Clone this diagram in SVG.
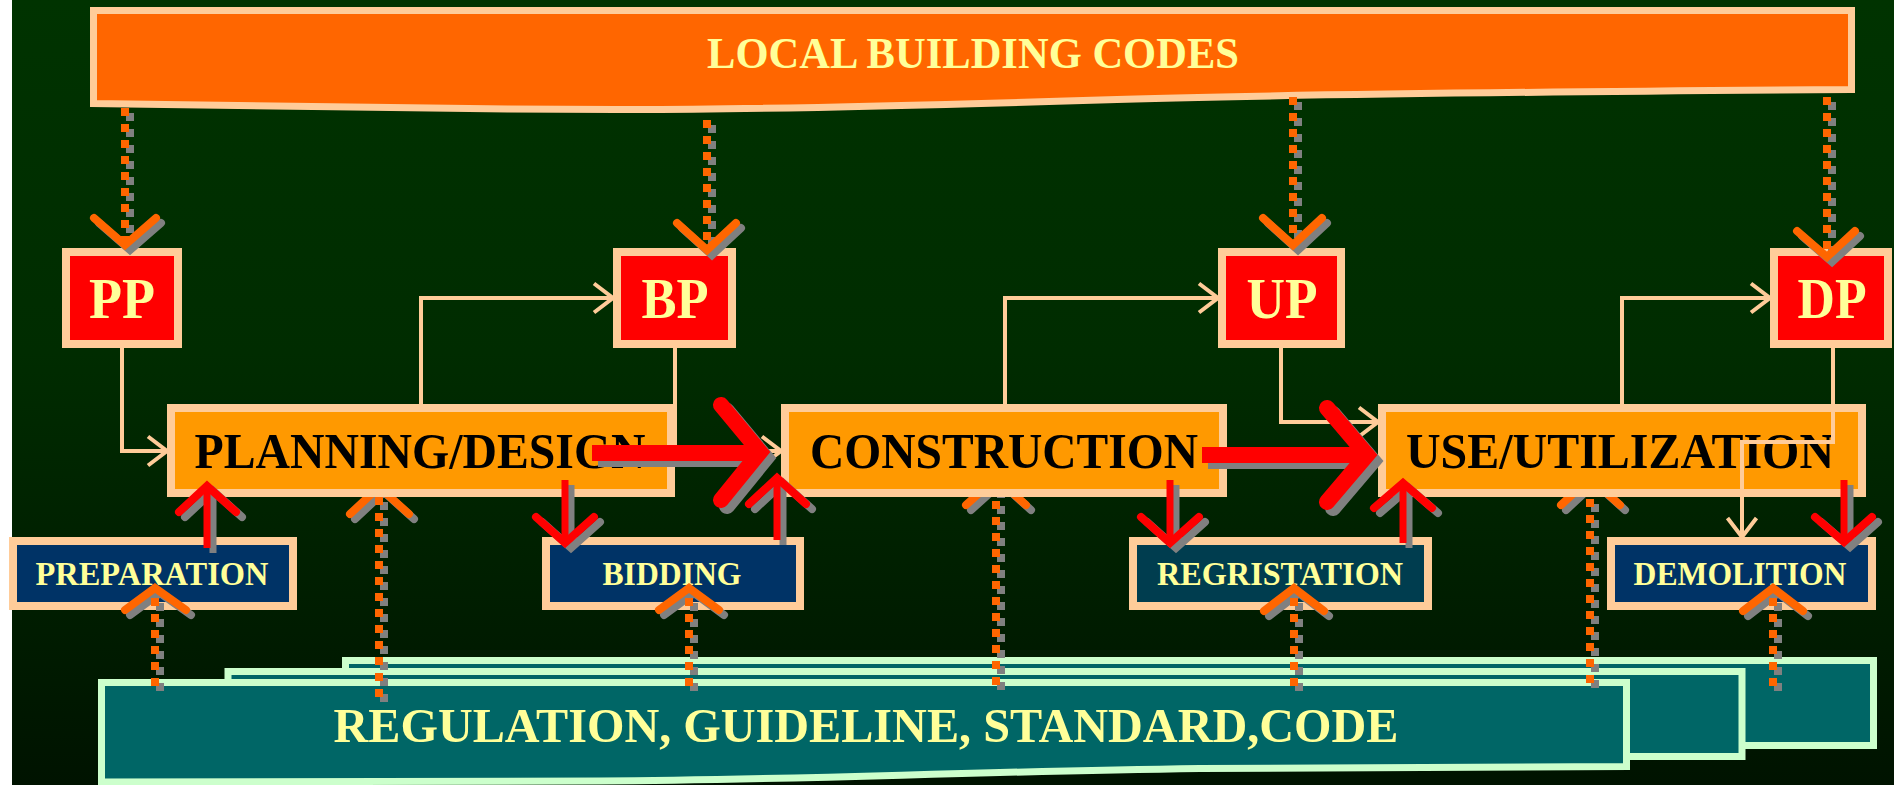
<svg xmlns="http://www.w3.org/2000/svg" width="1894" height="785" viewBox="0 0 1894 785">
<defs>
<linearGradient id="bg" x1="0" y1="0" x2="0" y2="1">
<stop offset="0" stop-color="#003300"/>
<stop offset="0.45" stop-color="#002c00"/>
<stop offset="1" stop-color="#001300"/>
</linearGradient>
<marker id="pa" markerUnits="userSpaceOnUse" viewBox="0 0 24 34" markerWidth="24" markerHeight="34" refX="21" refY="17" orient="auto">
<path d="M2,2.5 L21,17 L2,31.5" fill="none" stroke="#FFCC99" stroke-width="4"/>
</marker>
<clipPath id="below"><rect x="0" y="497" width="1894" height="288"/></clipPath>
</defs>
<style>
text{font-family:"Liberation Serif","Times New Roman",serif;font-weight:bold;text-anchor:middle}
.tb{fill:#FFFF99}
.big{font-size:57px}
.mid{font-size:50px;fill:#000}
.sm{font-size:33px;fill:#FFFF99}
.permit{fill:#FF0000;stroke:#FFCC99;stroke-width:8}
.phase{fill:#FF9900;stroke:#FFCC99;stroke-width:8}
.step{fill:#003366;stroke:#FFCC99;stroke-width:8}
.reg{fill:#006666;stroke:#CCFFCC;stroke-width:7}
.pc{fill:none;stroke:#FFCC99;stroke-width:4;marker-end:url(#pa)}
.dl{fill:none;stroke:#FF6600;stroke-width:8;stroke-dasharray:8 8}
.dh{fill:none;stroke:#FF6600;stroke-width:8;stroke-linecap:round;stroke-linejoin:miter}
.sh .dl,.sh .dh,.sh .ra,.sh .rs,.sh .ba,.sh .bs{stroke:#808080}
.ra{fill:none;stroke:#FF0000;stroke-width:8;stroke-linecap:round;stroke-linejoin:miter}
.rs{fill:none;stroke:#FF0000;stroke-width:7}
.ba{fill:none;stroke:#FF0000;stroke-width:16;stroke-linecap:round;stroke-linejoin:miter}
.bs{fill:none;stroke:#FF0000;stroke-width:16}
</style>
<rect x="0" y="0" width="1894" height="785" fill="#FFFFFF"/>
<rect x="12" y="0" width="1882" height="785" fill="url(#bg)"/>

<g id="regulation">
<rect class="reg" x="345.5" y="660.5" width="1528" height="85"/>
<rect class="reg" x="228" y="671.5" width="1514" height="85"/>
<path class="reg" d="M101.5,682.5 H1626.5 V766.5 L1200,768.5 C950,772 800,780 600,781 L101.5,782 Z"/>
<text class="tb" x="866" y="742" font-size="49" textLength="1065" lengthAdjust="spacingAndGlyphs">REGULATION, GUIDELINE, STANDARD,CODE</text>
</g>

<g id="local-codes">
<path d="M93.5,10.5 H1851.5 V89.5 C1500,92 1250,95 1100,100 C900,106 750,110 616,109.5 C450,109 300,107.5 93.5,103.5 Z" fill="#FF6600" stroke="#FFCC99" stroke-width="7"/>
<text class="tb" x="973" y="68" font-size="44" textLength="532" lengthAdjust="spacingAndGlyphs">LOCAL BUILDING CODES</text>
</g>

<g id="pp"><rect class="permit" x="66" y="252" width="112" height="92"/><text class="tb big" x="122" y="318" textLength="66" lengthAdjust="spacingAndGlyphs">PP</text></g>
<g id="bp"><rect class="permit" x="617" y="252" width="115" height="92"/><text class="tb big" x="675" y="318" textLength="67" lengthAdjust="spacingAndGlyphs">BP</text></g>
<g id="up"><rect class="permit" x="1222" y="252" width="119" height="92"/><text class="tb big" x="1282" y="318" textLength="71" lengthAdjust="spacingAndGlyphs">UP</text></g>
<g id="dp"><rect class="permit" x="1774" y="252" width="114" height="92"/><text class="tb big" x="1832" y="318" textLength="69" lengthAdjust="spacingAndGlyphs">DP</text></g>

<g id="planning"><rect class="phase" x="171" y="408" width="500" height="85"/><text class="mid" x="420" y="468" textLength="451" lengthAdjust="spacingAndGlyphs">PLANNING/DESIGN</text></g>
<g id="construction"><rect class="phase" x="785" y="408" width="438" height="85"/><text class="mid" x="1004" y="468" textLength="388" lengthAdjust="spacingAndGlyphs">CONSTRUCTION</text></g>
<g id="use"><rect class="phase" x="1382" y="408" width="480" height="85"/><text class="mid" x="1620" y="468" textLength="428" lengthAdjust="spacingAndGlyphs">USE/UTILIZATION</text></g>

<g id="preparation"><rect class="step" x="13" y="541" width="280" height="65"/><text class="sm" x="152" y="585" textLength="233" lengthAdjust="spacingAndGlyphs">PREPARATION</text></g>
<g id="bidding"><rect class="step" x="546" y="541" width="254" height="65"/><text class="sm" x="672" y="585" textLength="139" lengthAdjust="spacingAndGlyphs">BIDDING</text></g>
<g id="registration"><rect class="step" x="1133" y="541" width="295" height="65" style="fill:#003D4F"/><text class="sm" x="1280" y="585" textLength="246" lengthAdjust="spacingAndGlyphs">REGRISTATION</text></g>
<g id="demolition"><rect class="step" x="1611" y="541" width="261" height="65"/><text class="sm" x="1740" y="585" textLength="213" lengthAdjust="spacingAndGlyphs">DEMOLITION</text></g>

<g id="connectors">
<path class="pc" d="M122,348 V451 H167"/>
<path class="pc" d="M421,404 V298 H613"/>
<path class="pc" d="M675,348 V451 H781"/>
<path class="pc" d="M1005,404 V298 H1218"/>
<path class="pc" d="M1281,348 V422 H1378"/>
<path class="pc" d="M1622,404 V298 H1770"/>
<path class="pc" d="M1833,348 V442 H1742 V537"/>

<g class="sh" transform="translate(5,5)">
<path class="dl" d="M125,108 V240"/><path class="dh" d="M94,218 L125,245 L156,218"/>
<path class="dl" d="M707,120 V246"/><path class="dh" d="M677,223 L707,250 L736,223"/>
<path class="dl" d="M1293,97 V240"/><path class="dh" d="M1263,218 L1293,245 L1322,218"/>
<path class="dl" d="M1827,97 V252"/><path class="dh" d="M1797,231 L1827,257 L1855,231"/>
</g>
<g>
<path class="dl" d="M125,108 V240"/><path class="dh" d="M94,218 L125,245 L156,218"/>
<path class="dl" d="M707,120 V246"/><path class="dh" d="M677,223 L707,250 L736,223"/>
<path class="dl" d="M1293,97 V240"/><path class="dh" d="M1263,218 L1293,245 L1322,218"/>
<path class="dl" d="M1827,97 V252"/><path class="dh" d="M1797,231 L1827,257 L1855,231"/>
</g>

<g clip-path="url(#below)">
<g class="sh" transform="translate(5,5)">
<path class="dl" d="M379,697 V492"/><path class="dh" d="M350,514 L379,487 L409,514"/>
<path class="dl" d="M996,685 V492"/><path class="dh" d="M966,505 L996,478 L1026,505"/>
<path class="dl" d="M1590,683 V492"/><path class="dh" d="M1561,505 L1590,478 L1620,505"/>
</g>
<g>
<path class="dl" d="M379,697 V492"/><path class="dh" d="M350,514 L379,487 L409,514"/>
<path class="dl" d="M996,685 V492"/><path class="dh" d="M966,505 L996,478 L1026,505"/>
<path class="dl" d="M1590,683 V492"/><path class="dh" d="M1561,505 L1590,478 L1620,505"/>
</g>
</g>

<g class="sh" transform="translate(5,5)">
<path class="dl" d="M155,686 V596"/><path class="dh" d="M125,610 L155,588 L186,610"/>
<path class="dl" d="M689,686 V596"/><path class="dh" d="M659,610 L689,588 L719,610"/>
<path class="dl" d="M1294,686 V596"/><path class="dh" d="M1264,611 L1294,588 L1324,611"/>
<path class="dl" d="M1773,686 V596"/><path class="dh" d="M1743,611 L1773,588 L1803,611"/>
</g>
<g>
<path class="dl" d="M155,686 V596"/><path class="dh" d="M125,610 L155,588 L186,610"/>
<path class="dl" d="M689,686 V596"/><path class="dh" d="M659,610 L689,588 L719,610"/>
<path class="dl" d="M1294,686 V596"/><path class="dh" d="M1264,611 L1294,588 L1324,611"/>
<path class="dl" d="M1773,686 V596"/><path class="dh" d="M1743,611 L1773,588 L1803,611"/>
</g>

<g class="sh" transform="translate(6,5)">
<path class="rs" d="M207,548 V490"/><path class="ra" d="M179,512 L207,486 L236,512"/>
<path class="rs" d="M565,480 V538"/><path class="ra" d="M536,517 L565,543 L594,517"/>
<path class="rs" d="M777,540 V482"/><path class="ra" d="M749,504 L777,478 L806,504"/>
<path class="rs" d="M1170,480 V538"/><path class="ra" d="M1141,517 L1170,543 L1199,517"/>
<path class="rs" d="M1403,543 V487"/><path class="ra" d="M1374,508 L1403,483 L1432,508"/>
<path class="rs" d="M1844,480 V538"/><path class="ra" d="M1815,517 L1844,542 L1872,517"/>
</g>
<g>
<path class="rs" d="M207,548 V490"/><path class="ra" d="M179,512 L207,486 L236,512"/>
<path class="rs" d="M565,480 V538"/><path class="ra" d="M536,517 L565,543 L594,517"/>
<path class="rs" d="M777,540 V482"/><path class="ra" d="M749,504 L777,478 L806,504"/>
<path class="rs" d="M1170,480 V538"/><path class="ra" d="M1141,517 L1170,543 L1199,517"/>
<path class="rs" d="M1403,543 V487"/><path class="ra" d="M1374,508 L1403,483 L1432,508"/>
<path class="rs" d="M1844,480 V538"/><path class="ra" d="M1815,517 L1844,542 L1872,517"/>
</g>

<g class="sh" transform="translate(6,6)">
<path class="bs" d="M592,453 H750"/><path class="ba" d="M721,405 L760,452 L721,500"/>
<path class="bs" d="M1202,455 H1358"/><path class="ba" d="M1327,408 L1367,455 L1327,502"/>
</g>
<g>
<path class="bs" d="M592,453 H750"/><path class="ba" d="M721,405 L760,452 L721,500"/>
<path class="bs" d="M1202,455 H1358"/><path class="ba" d="M1327,408 L1367,455 L1327,502"/>
</g>
</g>
</svg>
